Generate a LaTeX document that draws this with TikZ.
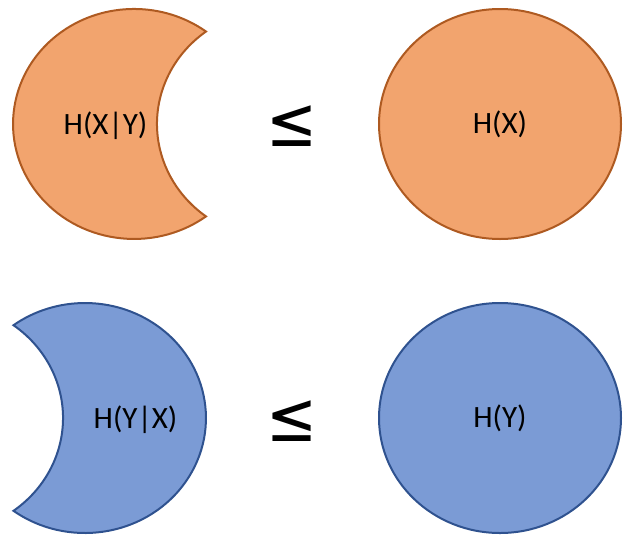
\documentclass[tikz,border=0pt]{standalone}
\usepackage{graphicx}
\usepackage{fontspec}
\setmainfont{Carlito}
\newfontfamily\symfont{DejaVu Sans}
\usetikzlibrary{shapes.geometric}

\definecolor{hxfill}{HTML}{F2A46E}
\definecolor{hxline}{HTML}{AE5A21}
\definecolor{hyfill}{HTML}{7B9BD5}
\definecolor{hyline}{HTML}{2F528F}

\begin{document}
\begin{tikzpicture}[
        x=1pt, y=-1pt,
        xset/.style={draw=hxline, fill=hxfill, line width=2pt},
        yset/.style={draw=hyline, fill=hyfill, line width=2pt},
        entropy/.style={font=\fontsize{31}{36}\selectfont, inner sep=0pt, anchor=base},
        relation/.style={font=\symfont\fontsize{70}{74}\selectfont, inner sep=0pt},
    ]
    \useasboundingbox (0,0) rectangle (634,541);

    % Conditional entropy of X: outer ellipse minus the Y ellipse
    \path[xset] (206,216.4)
        arc[start angle=53.5, end angle=306.5, x radius=121, y radius=115]
        arc[start angle=233.5, end angle=126.5, x radius=121, y radius=115]
        -- cycle;
    \node[entropy] (hxy) at (105.5,134.5) {H(X|Y)};

    % Conditional entropy of Y
    \path[yset] (13.5,510.8)
        arc[start angle=126.2, end angle=-126.2, x radius=121, y radius=115]
        arc[start angle=-53.8, end angle=53.8, x radius=121, y radius=115]
        -- cycle;
    \node[entropy] (hyx) at (135.5,428) {H(Y|X)};

    % Marginal entropies
    \path[xset] (500,124) ellipse[x radius=121, y radius=115];
    \node[entropy] (hx) at (500,133.3) {H(X)};
    \path[yset] (500,418) ellipse[x radius=121, y radius=115];
    \node[entropy] (hy) at (500,427) {H(Y)};

    % Inequality signs
    \node[relation] (leq-x) at (292.5,126) {\scalebox{0.87}[1]{≤}};
    \node[relation] (leq-y) at (292.5,421) {\scalebox{0.87}[1]{≤}};
\end{tikzpicture}
\end{document}
